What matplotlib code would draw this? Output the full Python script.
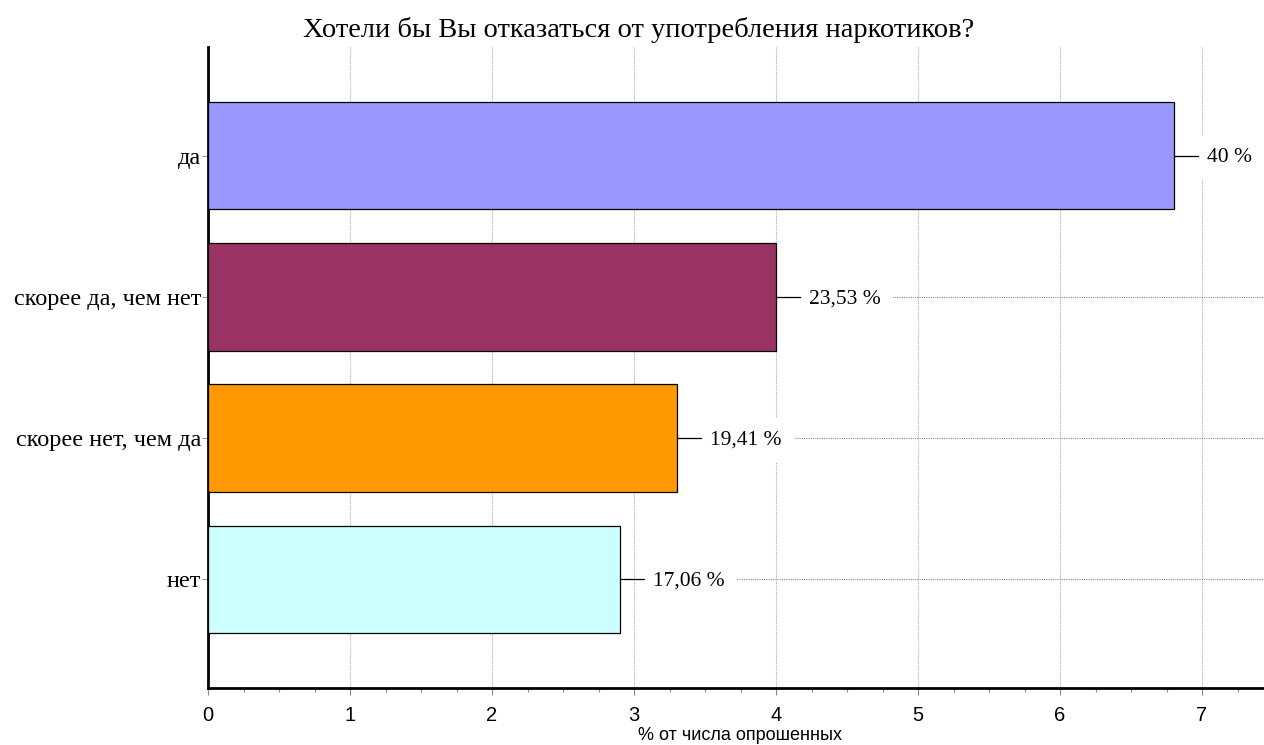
import matplotlib
matplotlib.use('Agg')
import matplotlib.pyplot as plt
from matplotlib.ticker import MultipleLocator

# data
categories = ['да', 'скорее да, чем нет', 'скорее нет, чем да', 'нет']
values = [6.8, 4.0, 3.3, 2.9]
labels = ['40 %', '23,53 %', '19,41 %', '17,06 %']
colors = ['#9999FF', '#993366', '#FF9900', '#CCFFFF']

fig = plt.figure(figsize=(12.64, 7.45), dpi=100)
ax = fig.add_axes([208/1264, 1 - 688/745, 1 - 208/1264, (688 - 47)/745])

ypos = list(range(len(categories)))[::-1]

# horizontal dotted lines at each bar level
for y in ypos:
    ax.axhline(y, color='#888888', lw=0.8, ls=(0, (1, 1)), zorder=0)
ax.grid(axis='x', color='#aaaaaa', lw=0.8, ls=(0, (1, 1)), zorder=0)

ax.barh(ypos, values, height=0.76, color=colors, edgecolor='black',
        linewidth=0.9, zorder=3)

px = 1 / 142  # data units per pixel on x
for y, v, lab in zip(ypos, values, labels):
    ax.plot([v + 1 * px, v + 24 * px], [y, y], color='black', lw=0.9, zorder=6)
    ax.text(v + 33 * px, y - 0.012, lab, va='center', ha='left', fontsize=15.5,
            family='Liberation Serif', zorder=5,
            bbox=dict(facecolor='white', edgecolor='none', pad=9))

ax.set_xlim(0, (1264 - 208) / 142)
ax.set_ylim(-0.77, 3.77)
ax.xaxis.set_major_locator(MultipleLocator(1))
ax.xaxis.set_minor_locator(MultipleLocator(0.25))
ax.set_yticks(ypos)
ax.set_yticklabels(categories, family='Liberation Serif', fontsize=17.5)
ax.tick_params(axis='y', length=4, width=0.6, color='#888888', pad=1)
ax.tick_params(axis='x', which='major', length=5, width=0.8, color='#888888',
               labelsize=14.5, pad=8)
ax.tick_params(axis='x', which='minor', length=3, width=0.8, color='#888888')
for lab in ax.get_xticklabels():
    lab.set_family('Liberation Sans')

for s in ['top', 'right']:
    ax.spines[s].set_visible(False)
ax.spines['left'].set_linewidth(2)
ax.spines['bottom'].set_linewidth(2)
ax.set_axisbelow(True)

ax.set_xlabel('% от числа опрошенных', family='Liberation Sans', fontsize=13)
ax.xaxis.set_label_coords((740 - 208) / 1056, -47 / 641)
ax.xaxis.label.set_va('center')
fig.text(639 / 1264, 1 - 30 / 745, 'Хотели бы Вы отказаться от употребления наркотиков?',
         ha='center', va='center', family='Liberation Serif', fontsize=20.5)

fig.savefig('out.png', dpi=100)
